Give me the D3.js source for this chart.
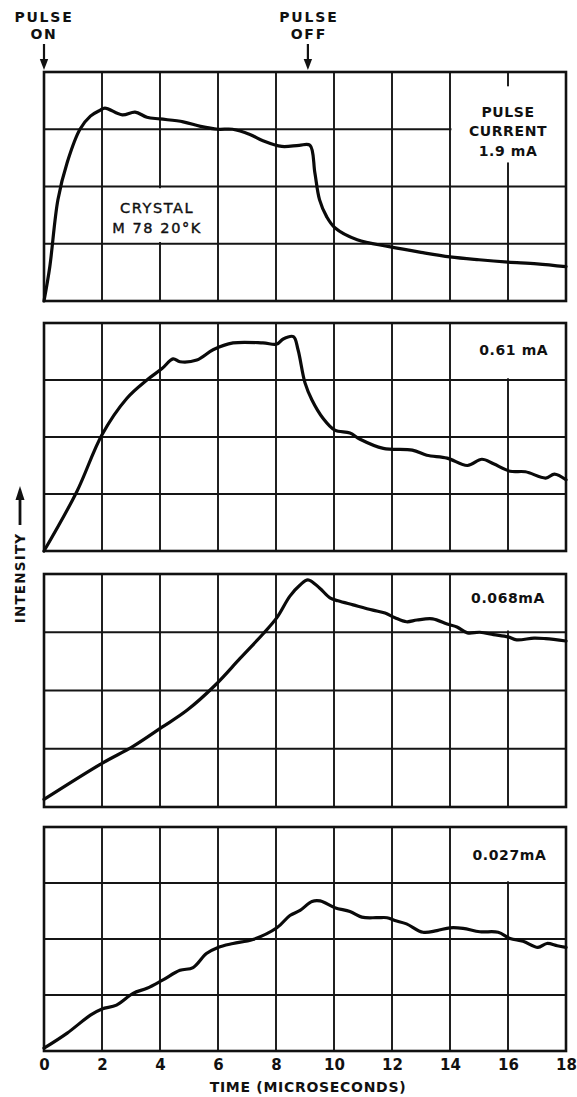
<!DOCTYPE html>
<html>
<head>
<meta charset="utf-8">
<script src="https://cdn.jsdelivr.net/npm/d3@7"></script>
<style>
  body { margin: 0; background: #fff; }
  svg { display: block; }
  text { font-family: "DejaVu Sans", "Liberation Sans", sans-serif; fill: #111; }
</style>
</head>
<body>
<svg id="chart" width="577" height="1097"></svg>
<script>
// Time axis (microseconds) and intensity grid divisions
const timeTicks = [0, 2, 4, 6, 8, 10, 12, 14, 16, 18];
const intensityTicks = [0, 1, 2, 3, 4];
const pulseOnTime = 0;
const pulseOffTime = 9.1;

// Pulse current for each trace
const currentLabels = [["PULSE", "CURRENT", "1.9 mA"], ["0.61 mA"], ["0.068mA"], ["0.027mA"]];
const sampleLabel = ["CRYSTAL", "M 78 20°K"];

// Trace 1: 1.9 mA
const time1 = [0, 0.2, 0.48, 0.8, 1.24, 1.6, 1.93, 2.1, 2.7, 3.14, 3.55, 4.0, 4.8, 5.4, 6.0, 6.5, 7.1, 7.55, 8.2, 8.8, 9.17, 9.34, 9.5, 9.75, 10.03, 10.8, 11.9, 13.0, 14.0, 15.0, 16.0, 17.0, 18.0];
const intensity1 = [0, 0.6, 1.77, 2.42, 3.0, 3.23, 3.33, 3.37, 3.25, 3.3, 3.21, 3.18, 3.13, 3.05, 3.0, 3.0, 2.91, 2.8, 2.7, 2.72, 2.72, 2.24, 1.77, 1.47, 1.28, 1.07, 0.95, 0.85, 0.77, 0.72, 0.68, 0.65, 0.6];

// Trace 2: 0.61 mA
const time2 = [0, 1.13, 2.0, 2.86, 3.55, 4.07, 4.45, 4.69, 5.27, 5.83, 6.52, 7.55, 8.03, 8.25, 8.6, 8.76, 9.0, 9.24, 9.62, 10.03, 10.55, 10.9, 11.7, 12.7, 13.2, 13.9, 14.6, 15.1, 15.5, 16.07, 16.6, 17.3, 17.6, 18.0];
const intensity2 = [0, 1.04, 2.04, 2.68, 3.0, 3.2, 3.37, 3.32, 3.35, 3.53, 3.65, 3.65, 3.63, 3.72, 3.76, 3.53, 2.95, 2.65, 2.33, 2.12, 2.07, 1.96, 1.8, 1.77, 1.68, 1.63, 1.5, 1.61, 1.53, 1.4, 1.39, 1.28, 1.35, 1.25];

// Trace 3: 0.068 mA
const time3 = [0, 2.0, 3.07, 4.07, 4.93, 5.9, 6.76, 7.55, 8.03, 8.48, 8.83, 9.1, 9.5, 9.86, 10.14, 10.66, 11.34, 11.76, 12.1, 12.5, 12.86, 13.4, 13.9, 14.24, 14.6, 15.03, 15.5, 16.0, 16.3, 16.9, 17.3, 18.0];
const intensity3 = [0.13, 0.75, 1.04, 1.37, 1.66, 2.09, 2.55, 2.97, 3.25, 3.62, 3.81, 3.9, 3.76, 3.59, 3.54, 3.47, 3.38, 3.33, 3.25, 3.18, 3.21, 3.23, 3.14, 3.09, 2.99, 3.0, 2.96, 2.92, 2.87, 2.9, 2.89, 2.85];

// Trace 4: 0.027 mA
const time4 = [0, 0.8, 1.6, 2.0, 2.5, 3.07, 3.55, 4.07, 4.69, 5.14, 5.6, 6.0, 6.52, 7.2, 8.03, 8.48, 8.83, 9.24, 9.52, 10.03, 10.55, 10.96, 11.48, 11.83, 12.1, 12.5, 13.07, 13.55, 14.0, 14.45, 15.03, 15.66, 16.07, 16.52, 17.03, 17.34, 17.7, 18.0];
const intensity4 = [0.05, 0.32, 0.64, 0.75, 0.82, 1.03, 1.12, 1.26, 1.44, 1.49, 1.74, 1.85, 1.92, 1.99, 2.2, 2.42, 2.51, 2.67, 2.68, 2.56, 2.49, 2.39, 2.38, 2.38, 2.33, 2.27, 2.12, 2.15, 2.2, 2.19, 2.13, 2.12, 2.01, 1.96, 1.85, 1.92, 1.88, 1.85];

const traces = [
  { time: time1, intensity: intensity1 },
  { time: time2, intensity: intensity2 },
  { time: time3, intensity: intensity3 },
  { time: time4, intensity: intensity4 }
];

// ---- layout ----
const left = 44, right = 566;
const panelTop = [72, 323, 574, 827];
const panelBottom = [301, 551, 807, 1051];
// label placement in data units: anchor (t, v) and blank-out box [t0, t1, v0, v1]
const labelPlace = [
  { t: 16, v: 3.21, lineV: 0.335, box: [14.05, 18, 2.42, 3.75] },
  { t: 16.2, v: 3.44, lineV: 0.33, box: [14.5, 18, 3.03, 4] },
  { t: 16, v: 3.5, lineV: 0.33, box: [14.5, 18, 3.03, 4] },
  { t: 16.05, v: 3.41, lineV: 0.33, box: [14.5, 18, 3.03, 4] }
];
const samplePlace = { t: 3.9, v: 1.54, lineV: 0.35, box: [2.25, 5.7, 1.03, 1.97] };

const svg = d3.select("#chart");
const x = d3.scaleLinear().domain([0, 18]).range([left, right]);

const line = d3.line().curve(d3.curveCatmullRom.alpha(0.5));

traces.forEach((tr, i) => {
  const y = d3.scaleLinear().domain([0, 4]).range([panelBottom[i], panelTop[i]]);
  const g = svg.append("g");

  // grid
  g.selectAll("line.v").data(timeTicks.slice(1, -1)).join("line")
    .attr("x1", d => x(d)).attr("x2", d => x(d))
    .attr("y1", y(0)).attr("y2", y(4))
    .attr("stroke", "#151515").attr("stroke-width", 1.9);
  g.selectAll("line.h").data(intensityTicks.slice(1, -1)).join("line")
    .attr("x1", x(0)).attr("x2", x(18))
    .attr("y1", d => y(d)).attr("y2", d => y(d))
    .attr("stroke", "#151515").attr("stroke-width", 1.9);

  // blank areas behind labels
  const boxes = [labelPlace[i].box];
  if (i === 0) boxes.push(samplePlace.box);
  g.selectAll("rect.blank").data(boxes).join("rect")
    .attr("x", b => x(b[0])).attr("width", b => x(b[1]) - x(b[0]))
    .attr("y", b => y(b[3])).attr("height", b => y(b[2]) - y(b[3]))
    .attr("fill", "#fff");

  // frame
  g.append("rect")
    .attr("x", x(0)).attr("y", y(4))
    .attr("width", x(18) - x(0)).attr("height", y(0) - y(4))
    .attr("fill", "none").attr("stroke", "#111").attr("stroke-width", 2.6);

  // trace
  const pts = tr.time.map((t, k) => [x(t), y(tr.intensity[k])]);
  g.append("path").attr("d", line(pts))
    .attr("fill", "none").attr("stroke", "#0a0a0a")
    .attr("stroke-width", 3.2).attr("stroke-linejoin", "round").attr("stroke-linecap", "round");

  // current label
  const lp = labelPlace[i];
  g.selectAll("text.cur").data(currentLabels[i]).join("text")
    .attr("x", x(lp.t))
    .attr("y", (d, k) => y(lp.v - k * lp.lineV))
    .attr("text-anchor", "middle")
    .attr("font-size", 14).attr("font-weight", "bold")
    .attr("letter-spacing", 0.6)
    .text(d => d);

  if (i === 0) {
    g.selectAll("text.sample").data(sampleLabel).join("text")
      .attr("x", x(samplePlace.t))
      .attr("y", (d, k) => y(samplePlace.v - k * samplePlace.lineV))
      .attr("text-anchor", "middle")
      .attr("font-size", 14.5)
      .attr("letter-spacing", 1.6)
      .attr("stroke", "#111").attr("stroke-width", 0.4)
      .text(d => d);
  }
});

// bottom time axis
const axis = d3.axisBottom(x).tickValues(timeTicks).tickSize(0).tickPadding(0).tickFormat(d3.format("d"));
const ax = svg.append("g").attr("transform", `translate(0, ${panelBottom[3] + 19})`).call(axis);
ax.select(".domain").remove();
ax.selectAll("text")
  .attr("font-family", "\"DejaVu Sans\", sans-serif")
  .attr("font-size", 15).attr("font-weight", "bold").attr("fill", "#111")
  .attr("dy", 0);

svg.append("text")
  .attr("x", 308).attr("y", 1092)
  .attr("text-anchor", "middle")
  .attr("font-size", 14).attr("font-weight", "bold").attr("letter-spacing", 0.7)
  .text("TIME  (MICROSECONDS)");

// pulse markers
function downArrow(px, y0, y1) {
  svg.append("line").attr("x1", px).attr("x2", px).attr("y1", y0).attr("y2", y1 - 8)
    .attr("stroke", "#111").attr("stroke-width", 2.2);
  svg.append("path")
    .attr("d", `M${px - 4.2},${y1 - 11} L${px + 4.2},${y1 - 11} L${px},${y1} Z`)
    .attr("fill", "#111");
}
[[pulseOnTime, ["PULSE", "ON"], 43], [pulseOffTime, ["PULSE", "OFF"], x(pulseOffTime)]].forEach(([t, words, cx]) => {
  svg.selectAll(null).data(words).join("text")
    .attr("x", cx + 1).attr("y", (d, k) => 22 + k * 16.5)
    .attr("text-anchor", "middle")
    .attr("font-size", 14).attr("font-weight", "bold").attr("letter-spacing", 1.8)
    .text(d => d);
  downArrow(x(t), 44, 70);
});

// vertical intensity label with upward arrow
svg.append("text")
  .attr("transform", "translate(24.5, 578) rotate(-90)")
  .attr("text-anchor", "middle")
  .attr("font-size", 13.5).attr("font-weight", "bold").attr("letter-spacing", 1.2)
  .text("INTENSITY");
svg.append("line").attr("x1", 20).attr("x2", 20).attr("y1", 525).attr("y2", 497)
  .attr("stroke", "#111").attr("stroke-width", 2.8);
svg.append("path").attr("d", "M15.5,500 L24.5,500 L20,486 Z").attr("fill", "#111");
</script>
</body>
</html>
